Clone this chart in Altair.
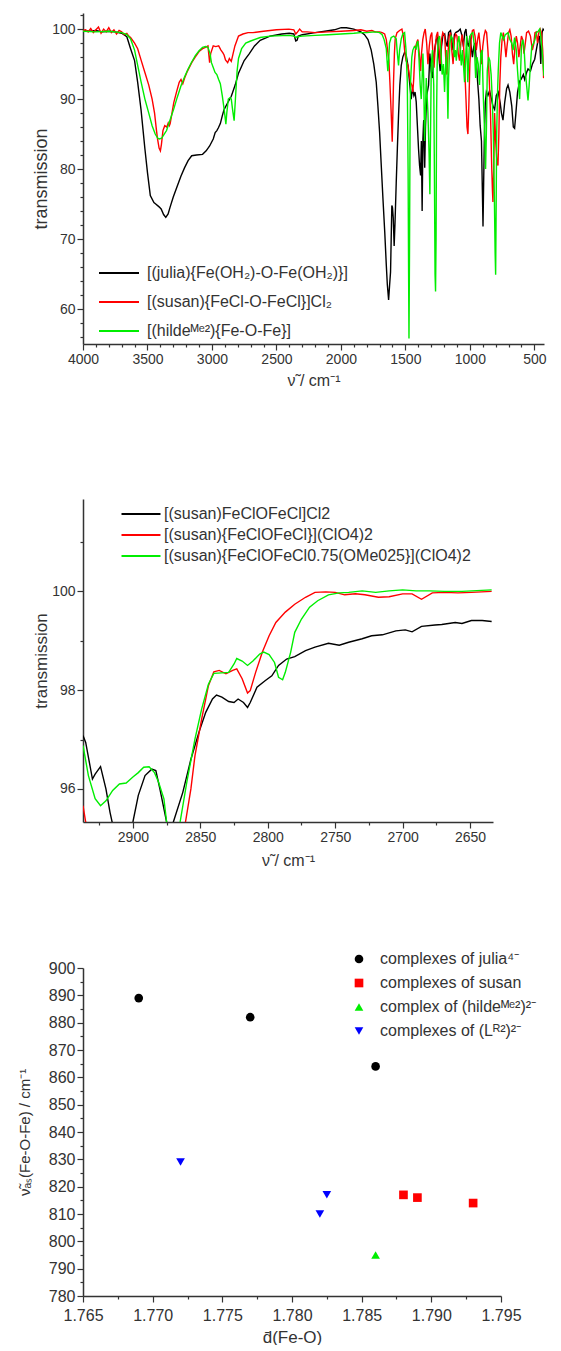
import altair as alt
import pandas as pd

FONT = "Liberation Sans"
AX = "#333333"

# ---------------- Panel 1: full IR spectra ----------------
julia_wn = [4000,3950,3900,3850,3800,3750,3700,3660,3631,3600,3576,3550,3520,3500,3478,3450,3436,3410,3394,3375,3358,3340,3324,3300,3268,3240,3212,3185,3157,3120,3073,3045,3018,2990,2975,2962,2950,2935,2920,2906,2880,2850,2820,2794,2750,2710,2670,2626,2550,2459,2400,2365,2350,2340,2330,2300,2200,2124,2050,1998,1957,1900,1845,1817,1790,1765,1745,1726,1713,1700,1687,1674,1660,1648,1640,1630,1622,1615,1610,1605,1600,1594,1587,1580,1571,1562,1553,1543,1532,1520,1506,1493,1480,1468,1455,1445,1434,1425,1416,1405,1398,1390,1382,1376,1370,1364,1358,1350,1344,1335,1320,1310,1300,1290,1280,1270,1260,1250,1240,1230,1220,1210,1195,1185,1175,1165,1150,1140,1130,1120,1110,1090,1075,1060,1050,1040,1030,1020,1010,1000,990,980,970,960,950,940,930,920,910,903,898,893,887,880,872,860,847,835,821,808,795,780,765,755,743,730,715,704,690,675,663,653,643,630,615,601,585,575,560,549,530,515,497,480,470,458,455,450,445,440,432,425]
julia_t = [99.8,99.7,99.8,99.6,99.7,99.6,99.4,98.9,97.2,95.5,92.4,88.5,82.9,79.5,76.2,75.2,75.0,74.6,74.3,73.5,73.1,73.6,74.6,76.0,77.6,79.0,80.2,81.2,81.9,82.0,82.1,82.6,83.3,84.3,85.2,85.5,85.9,86.5,87.6,88.5,89.4,90.4,92.0,93.7,95.5,96.5,97.6,98.4,99.0,99.3,99.4,99.3,98.3,98.4,99.0,99.2,99.5,99.7,99.9,100.2,100.2,100.0,99.6,99.2,98.5,97.0,95.0,92.4,89.0,85.3,80.5,75.8,71.0,66.3,63.5,61.3,63.5,65.3,70.0,74.8,74.5,73.0,69.0,72.5,78.0,83.0,87.7,92.0,94.8,96.0,96.7,96.2,94.8,92.5,90.0,91.5,90.5,91.0,89.6,85.5,82.9,80.5,79.1,84.0,74.0,84.3,87.0,80.2,86.0,90.5,92.0,96.5,94.0,93.0,96.0,97.5,98.5,98.8,96.0,94.0,97.5,99.0,99.3,98.0,97.5,99.5,99.8,98.5,97.0,99.2,99.5,99.7,100.0,99.0,97.5,99.5,100.0,98.0,97.5,99.0,97.5,96.0,97.5,98.0,95.5,92.5,90.0,86.2,84.0,77.0,71.8,78.0,85.0,89.5,91.0,90.5,91.2,90.2,89.0,88.5,90.5,91.0,89.5,88.0,87.0,89.5,91.5,92.0,91.0,89.0,86.0,85.8,88.0,91.0,92.5,92.9,93.5,92.8,93.8,94.3,94.0,95.0,95.7,97.5,98.5,99.0,97.0,95.0,97.5,99.5,100.0,99.8]

susan_wn = [4000,3980,3960,3940,3920,3900,3880,3860,3840,3820,3800,3780,3760,3740,3720,3700,3680,3660,3645,3631,3600,3576,3550,3520,3490,3464,3445,3430,3422,3410,3400,3392,3380,3366,3350,3339,3330,3324,3310,3296,3275,3254,3240,3226,3212,3190,3157,3130,3100,3073,3050,3031,3025,3018,3010,2990,2970,2948,2930,2915,2906,2895,2878,2865,2850,2836,2822,2808,2794,2760,2720,2682,2600,2500,2403,2365,2350,2340,2320,2300,2263,2200,2100,2000,1900,1845,1800,1760,1734,1700,1680,1661,1648,1636,1628,1620,1610,1602,1597,1592,1585,1579,1565,1545,1527,1515,1506,1495,1480,1470,1460,1450,1442,1435,1429,1420,1410,1403,1390,1382,1375,1365,1355,1346,1335,1325,1315,1305,1295,1285,1278,1270,1260,1250,1240,1230,1220,1210,1195,1185,1178,1170,1160,1150,1140,1130,1120,1110,1100,1090,1080,1070,1060,1050,1040,1030,1022,1015,1008,1000,990,980,970,960,950,940,930,920,910,900,890,880,870,860,850,840,830,825,821,815,808,800,790,782,775,768,760,750,740,730,720,712,700,690,680,670,660,650,640,630,620,610,600,590,580,570,560,545,530,515,505,495,485,475,465,455,445,435,428,425]
susan_t = [99.8,99.9,99.6,100.1,99.5,99.9,100.3,99.4,100.0,99.6,100.2,99.5,99.9,99.3,99.8,99.6,99.2,99.4,99.0,98.8,98.0,97.2,95.6,93.8,92.0,90.0,88.0,85.5,84.3,83.0,82.6,83.5,85.5,86.2,86.0,86.6,86.2,86.5,88.0,89.5,91.0,92.4,92.8,92.2,93.0,94.0,95.2,96.0,96.8,97.2,97.4,97.6,96.5,95.2,96.5,97.6,97.5,97.6,97.0,96.6,96.3,95.6,95.2,95.8,95.4,96.5,97.6,98.3,99.0,99.3,99.5,99.5,99.7,99.9,100.0,99.9,99.3,99.5,100.0,99.6,99.6,99.5,99.6,99.7,99.8,99.9,99.7,99.8,99.6,99.6,99.5,99.3,98.5,96.7,95.5,92.4,88.0,83.9,88.0,92.4,96.5,98.6,99.5,99.8,100.0,99.0,97.0,95.5,94.8,93.5,92.4,92.0,91.0,93.0,95.5,97.5,98.2,98.5,96.0,94.0,96.5,98.5,99.5,100.0,98.0,95.0,97.5,99.0,99.5,96.0,94.5,97.0,99.0,99.6,97.5,95.0,98.5,99.5,99.0,95.0,93.5,96.5,99.0,99.5,97.0,95.0,98.5,99.3,99.0,96.5,95.5,98.0,99.2,98.0,94.5,90.0,86.0,85.0,89.0,95.0,98.5,99.8,99.9,99.0,97.0,98.5,99.5,97.5,95.0,97.5,99.0,99.8,99.5,97.0,93.0,88.0,80.0,77.0,75.3,80.0,88.0,84.0,81.0,80.5,85.0,92.0,96.0,98.5,99.5,98.0,96.0,97.5,99.5,99.9,99.0,96.5,95.0,97.5,99.0,98.0,96.0,97.5,99.0,98.5,96.5,98.0,99.5,99.7,99.0,97.0,97.8,99.5,99.6,98.0,99.5,100.0,99.5,97.0,93.0,93.5]

hilde_wn = [4000,3900,3800,3700,3660,3631,3600,3576,3550,3520,3490,3464,3440,3420,3408,3390,3370,3352,3325,3296,3270,3240,3212,3185,3157,3129,3100,3073,3050,3031,3015,3004,2990,2976,2962,2948,2935,2920,2905,2892,2885,2873,2860,2850,2840,2828,2818,2805,2794,2770,2738,2700,2626,2550,2403,2365,2350,2340,2300,2200,2100,2000,1900,1845,1800,1734,1700,1680,1665,1648,1642,1636,1630,1623,1610,1590,1571,1562,1553,1545,1532,1520,1506,1495,1485,1479,1475,1472,1468,1464,1460,1450,1442,1430,1416,1410,1403,1395,1385,1377,1370,1364,1358,1351,1345,1338,1325,1316,1310,1305,1299,1290,1280,1275,1270,1266,1262,1258,1253,1245,1235,1225,1215,1205,1196,1190,1180,1175,1170,1165,1155,1145,1131,1120,1112,1105,1095,1085,1075,1066,1058,1050,1041,1032,1025,1016,1008,1000,990,977,965,955,945,935,925,915,905,895,885,878,872,865,855,845,835,826,818,810,804,800,797,792,786,780,770,760,750,740,725,704,690,675,665,653,640,630,622,614,608,600,590,580,570,560,549,540,530,520,505,495,484,470,458,450,440,432,425]
hilde_t = [99.7,99.6,99.7,99.5,99.2,98.6,97.0,94.8,92.5,90.0,88.0,86.2,85.0,84.4,84.3,84.4,85.0,85.5,87.0,88.6,90.2,91.9,93.2,94.3,95.3,96.2,96.9,97.4,97.5,97.4,96.5,95.2,94.5,93.8,93.5,92.8,92.2,90.5,88.5,86.4,88.0,90.0,90.2,90.0,88.5,86.9,90.0,94.0,95.8,97.2,98.0,98.3,98.8,99.0,99.1,99.0,98.8,98.9,99.0,99.1,99.2,99.3,99.4,99.5,99.5,99.6,99.5,99.2,98.5,97.2,95.5,94.0,95.5,98.0,98.8,99.0,98.6,96.5,94.8,97.0,98.6,99.3,99.5,97.0,92.4,80.0,65.0,55.8,68.0,85.0,92.4,96.0,97.0,97.5,97.2,98.0,98.3,96.0,92.0,90.0,93.0,96.5,93.0,84.0,88.0,93.0,88.0,82.0,76.4,85.0,95.0,97.0,92.0,80.0,65.0,62.5,70.0,88.0,95.5,98.5,99.0,97.0,93.5,95.0,91.0,94.0,97.0,92.0,87.2,93.0,98.0,99.0,98.5,96.0,97.0,95.5,98.0,99.0,97.0,94.8,97.0,95.0,92.4,96.0,99.0,92.4,96.0,99.0,99.3,99.5,97.5,93.0,96.0,95.0,92.0,96.5,97.0,90.0,85.0,80.0,85.0,94.0,96.0,95.5,93.5,90.0,85.0,76.0,68.0,64.9,72.0,85.0,90.5,94.0,98.0,99.5,99.0,98.5,99.2,99.5,98.5,98.0,97.0,98.8,97.0,94.0,92.0,90.0,93.0,97.5,98.5,97.5,94.0,92.0,89.8,92.0,95.0,97.5,98.0,98.5,99.5,99.7,100.0,99.0,97.0,95.0,93.3]

p1_labels = ["[(julia){Fe(OH₂)-O-Fe(OH₂)}]",
             "[(susan){FeCl-O-FeCl}]Cl₂",
             "[(hildeᴹᵉ²){Fe-O-Fe}]"]
line_colors = ["#000000", "#ff0000", "#00ee00"]

# ---------------- Panel 2: zoomed C-H region ----------------
s1_wn = [2937,2935,2930,2928,2924,2920,2917,2912,2905,2900,2896,2891,2886,2883,2880,2875,2873,2870,2863,2857,2851,2846,2841,2838,2834,2829,2825,2822,2818,2815,2813,2808,2802,2797,2792,2786,2780,2772,2765,2755,2747,2740,2730,2723,2715,2705,2698,2693,2686,2676,2671,2661,2656,2649,2641,2634]
s1_t = [97.08,96.94,96.2,96.3,96.45,96.0,95.53,94.9,94.9,95.33,95.87,96.27,96.4,96.37,96.0,95.33,95.0,95.33,95.93,96.6,97.15,97.55,97.82,97.9,97.86,97.77,97.75,97.82,97.75,97.65,97.75,98.06,98.19,98.29,98.5,98.63,98.68,98.8,98.87,98.95,98.91,98.97,99.04,99.1,99.12,99.2,99.22,99.18,99.29,99.32,99.33,99.37,99.35,99.41,99.41,99.39]

s2_wn = [2937,2935,2930,2910,2890,2870,2861,2857,2854,2849,2844,2840,2836,2831,2826,2823,2819,2815,2813,2809,2804,2799,2794,2787,2780,2772,2765,2757,2750,2743,2735,2728,2718,2710,2700,2693,2686,2678,2669,2659,2649,2634]
s2_t = [95.66,95.33,94.8,94.3,94.3,94.8,95.33,96.0,96.67,97.42,98.09,98.37,98.4,98.33,98.4,98.43,98.23,97.94,97.99,98.36,98.77,99.1,99.37,99.58,99.74,99.88,99.98,99.99,99.98,99.93,99.95,99.93,99.88,99.89,99.95,99.95,99.84,99.97,99.98,99.97,99.98,100.0]

s3_wn = [2937,2933,2928,2924,2920,2915,2910,2905,2900,2896,2892,2888,2884,2881,2877,2875,2870,2865,2860,2854,2849,2844,2840,2834,2829,2825,2823,2819,2815,2811,2806,2803,2799,2795,2792,2789,2787,2783,2780,2775,2769,2763,2755,2747,2740,2730,2720,2710,2700,2690,2680,2669,2656,2634]
s3_t = [96.88,96.27,95.8,95.66,95.76,95.97,96.1,96.12,96.24,96.33,96.44,96.45,96.33,96.14,95.8,95.33,95.0,95.33,96.14,97.01,97.62,98.12,98.34,98.35,98.36,98.53,98.64,98.59,98.5,98.59,98.73,98.77,98.72,98.56,98.26,98.21,98.36,98.77,99.17,99.44,99.68,99.81,99.93,99.97,99.98,100.01,99.98,100.01,100.03,100.01,100.01,100.0,100.0,100.03]

p2_labels = ["[(susan)FeClOFeCl]Cl2",
             "[(susan){FeClOFeCl}](ClO4)2",
             "[(susan){FeClOFeCl0.75(OMe025}](ClO4)2"]

# ---------------- Panel 3: nu_as vs d(Fe-O) ----------------
p3_groups = ["complexes of julia⁴⁻", "complexes of susan",
             "complex of (hildeᴹᵉ²)²⁻", "complexes of (Lᴿ²)²⁻"]
julia_d = [1.769, 1.777, 1.786]
julia_nu = [889, 882, 864]
susan_d = [1.788, 1.789, 1.793]
susan_nu = [817, 816, 814]
hilde_d = [1.786]
hilde_nu = [795]
lr_d = [1.772, 1.782, 1.7825]
lr_nu = [829, 810, 817]

# ---------------- tables ----------------
def spectra(pairs, labels):
    rows = []
    for (wn, t), lab in zip(pairs, labels):
        for i, (a, b) in enumerate(zip(wn, t)):
            rows.append({"wn": a, "t": b, "series": lab, "idx": i})
    return pd.DataFrame(rows)

df1 = spectra([(julia_wn, julia_t), (susan_wn, susan_t), (hilde_wn, hilde_t)], p1_labels)
df2 = spectra([(s1_wn, s1_t), (s2_wn, s2_t), (s3_wn, s3_t)], p2_labels)

rows3 = []
for lab, ds, ns in zip(p3_groups, [julia_d, susan_d, hilde_d, lr_d], [julia_nu, susan_nu, hilde_nu, lr_nu]):
    for a, b in zip(ds, ns):
        rows3.append({"d": a, "nu": b, "group": lab})
df3 = pd.DataFrame(rows3)

LINE_SYM = "M-2,0L2,0"

def tick_cond(test, big, small):
    return {"condition": {"test": test, "value": big}, "value": small}

# Panel 1
p1 = alt.Chart(df1).mark_line(strokeWidth=1.4, clip=True).encode(
    x=alt.X("wn:Q",
            scale=alt.Scale(domain=[4000, 425], nice=False, zero=False),
            axis=alt.Axis(values=list(range(500, 4001, 100)), format="d", labelFlush=False,
                          labelExpr="datum.value % 500 === 0 ? datum.label : ''",
                          tickSize=tick_cond("datum.value % 500 === 0", 6, 3),
                          title="ν̃ / cm⁻¹", titleFontSize=16, titlePadding=6,
                          labelFontSize=14)),
    y=alt.Y("t:Q",
            scale=alt.Scale(domain=[55, 102.3], nice=False, zero=False),
            axis=alt.Axis(values=list(range(56, 103, 2)), format="d",
                          labelExpr="datum.value % 10 === 0 ? datum.label : ''",
                          tickSize=tick_cond("datum.value % 10 === 0", 6, 3),
                          title="transmission", titleFontSize=18, titlePadding=1,
                          labelFontSize=14)),
    color=alt.Color("series:N", sort=p1_labels,
                    scale=alt.Scale(domain=p1_labels, range=line_colors),
                    legend=alt.Legend(title=None, orient="none", legendX=25, legendY=249,
                                      symbolType=LINE_SYM, symbolSize=400, symbolStrokeWidth=2,
                                      labelFontSize=16, labelOffset=17, rowPadding=10,
                                      labelLimit=400)),
    order="idx:Q",
).properties(width=461, height=331)

# Panel 2
p2 = alt.Chart(df2).mark_line(strokeWidth=1.4, clip=True).encode(
    x=alt.X("wn:Q",
            scale=alt.Scale(domain=[2937, 2633], nice=False, zero=False),
            axis=alt.Axis(values=list(range(2650, 2926, 25)), format="d",
                          labelExpr="datum.value % 50 === 0 ? datum.label : ''",
                          tickSize=tick_cond("datum.value % 50 === 0", 6, 3),
                          title="ν̃ / cm⁻¹", titleFontSize=16, titlePadding=8,
                          labelFontSize=14)),
    y=alt.Y("t:Q",
            scale=alt.Scale(domain=[95.33, 101.87], nice=False, zero=False),
            axis=alt.Axis(values=[96, 97, 98, 99, 100, 101], format="d",
                          labelExpr="datum.value % 2 === 0 ? datum.label : ''",
                          tickSize=tick_cond("datum.value % 2 === 0", 6, 3),
                          title="transmission", titleFontSize=17, titlePadding=1,
                          labelFontSize=14)),
    color=alt.Color("series:N", sort=p2_labels,
                    scale=alt.Scale(domain=p2_labels, range=line_colors),
                    legend=alt.Legend(title=None, orient="none", legendX=47, legendY=4,
                                      symbolType=LINE_SYM, symbolSize=380, symbolStrokeWidth=2,
                                      labelFontSize=16, labelOffset=12, rowPadding=2,
                                      labelLimit=500)),
    order="idx:Q",
).properties(width=410, height=323)

# Panel 3
leg3 = dict(title=None, orient="none", legendX=268, legendY=-17,
            labelFontSize=16, labelOffset=13, rowPadding=8,
            symbolSize=75, labelLimit=400)
p3 = alt.Chart(df3).mark_point(filled=True, size=75, opacity=1).encode(
    x=alt.X("d:Q",
            scale=alt.Scale(domain=[1.765, 1.795], nice=False, zero=False),
            axis=alt.Axis(values=[1.765 + 0.0025 * i for i in range(13)], format=".3f",
                          labelFlush=False, labelPadding=5,
                          labelExpr="round(datum.value * 10000) % 50 === 0 ? datum.label : ''",
                          tickSize=tick_cond("round(datum.value * 10000) % 50 === 0", 6, 3),
                          title="d̄(Fe-O)", titleFontSize=17, titlePadding=6,
                          labelFontSize=16)),
    y=alt.Y("nu:Q",
            scale=alt.Scale(domain=[780, 900], nice=False, zero=False),
            axis=alt.Axis(values=list(range(780, 901, 5)), format="d",
                          labelExpr="datum.value % 10 === 0 ? datum.label : ''",
                          tickSize=tick_cond("datum.value % 10 === 0", 6, 3),
                          title="ν̃ₐₛ(Fe-O-Fe) / cm⁻¹", titleFontSize=15, titlePadding=16,
                          labelFontSize=16)),
    color=alt.Color("group:N", sort=p3_groups,
                    scale=alt.Scale(domain=p3_groups, range=["#000000", "#ff0000", "#00ee00", "#0000ff"]),
                    legend=alt.Legend(**leg3)),
    shape=alt.Shape("group:N", sort=p3_groups,
                    scale=alt.Scale(domain=p3_groups, range=["circle", "square", "triangle-up", "triangle-down"]),
                    legend=alt.Legend(**leg3)),
).properties(width=418, height=328)

top = alt.vconcat(p1, p2, spacing=111).resolve_scale(color="independent").resolve_legend(color="independent")
chart = alt.vconcat(top, p3, spacing=83).resolve_scale(
    color="independent", shape="independent").resolve_legend(color="independent", shape="independent").properties(
    padding={"left": 9, "top": 5, "right": 0, "bottom": 0}
).configure_view(stroke=None).configure_axis(
    grid=False, labelFont=FONT, titleFont=FONT, domainColor=AX, tickColor=AX,
    labelColor=AX, titleColor=AX, titleFontWeight="normal", domainWidth=1.5, tickWidth=1.2,
    labelPadding=2
).configure_legend(labelFont=FONT, labelColor=AX, padding=0)

chart.save("out.html", embed_options={"renderer": "svg", "actions": False})
